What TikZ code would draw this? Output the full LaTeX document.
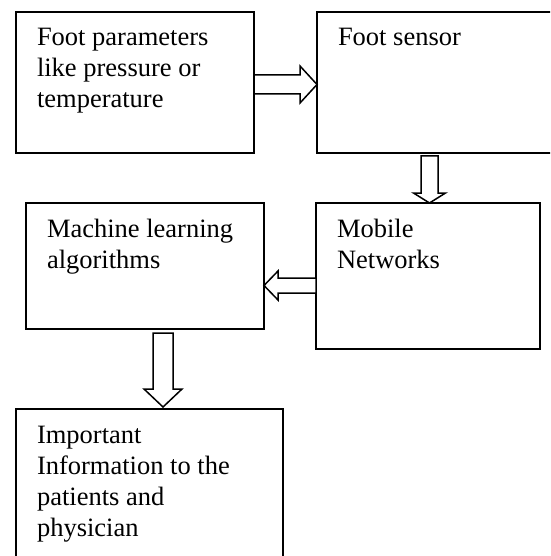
\documentclass[tikz,border=0pt]{standalone}
\usepackage{fontspec}
\setmainfont{Liberation Serif}
\usetikzlibrary{calc}

\tikzset{
  box/.style={draw, line width=1.5pt, rectangle, inner sep=0pt, outer sep=0pt, anchor=north west},
  lbl/.style={inner sep=0pt, outer sep=0pt, anchor=base west, font=\fontsize{26.5}{31}\selectfont},
  blk/.style={draw, fill=white, line width=1.5pt, line join=miter}
}
\newcommand\lbltext[1]{\parbox[t]{300pt}{\raggedright #1}}

\begin{document}
\begin{tikzpicture}[x=1pt, y=-1pt]
  \clip (0,0) rectangle (550,556);

  % boxes
  \node[box, minimum width=238pt, minimum height=141pt] (b1) at (16,12) {};
  \node[box, minimum width=243pt, minimum height=141pt] (b2) at (317,12) {};
  \node[box, minimum width=224pt, minimum height=146pt] (b3) at (316,203) {};
  \node[box, minimum width=238pt, minimum height=126pt] (b4) at (26,203) {};
  \node[box, minimum width=267pt, minimum height=166pt] (b5) at (16,409) {};

  % labels
  \node[lbl] (t1) at ($(b1.north west)+(21,34)$) {\lbltext{Foot parameters\\like pressure or\\temperature}};
  \node[lbl] (t2) at ($(b2.north west)+(21,34)$) {\lbltext{Foot sensor}};
  \node[lbl] (t3) at ($(b3.north west)+(21,34)$) {\lbltext{Mobile\\Networks}};
  \node[lbl] (t4) at ($(b4.north west)+(21,34)$) {\lbltext{Machine learning\\algorithms}};
  \node[lbl] (t5) at ($(b5.north west)+(21,34)$) {\lbltext{Important\\Information to the\\patients and\\physician}};

  % arrow ends
  \coordinate (a1s) at ($(b1.north east)+(0,72.5)$);
  \coordinate (a1e) at ($(b2.north west)+(0,72.5)$);
  \coordinate (a2s) at ($(b2.south west)+(112.5,3)$);
  \coordinate (a2e) at ($(b3.north west)+(113.5,0)$);
  \coordinate (a3s) at ($(b3.north west)+(0,82.5)$);
  \coordinate (a3e) at ($(b4.north east)+(0,82.5)$);
  \coordinate (a4s) at ($(b4.south west)+(137,4)$);
  \coordinate (a4e) at ($(b5.north west)+(147,-2)$);

  % hollow block arrows
  \draw[blk] ($(a1s)+(0,-9.5)$) -- ($(a1e)+(-17,-9.5)$) -- ($(a1e)+(-17,-18.5)$) -- (a1e)
    -- ($(a1e)+(-17,18.5)$) -- ($(a1e)+(-17,9.5)$) -- ($(a1s)+(0,9.5)$) -- cycle;
  \draw[blk] ($(a2s)+(-8.5,0)$) -- ($(a2s |- a2e)+(-8.5,-10)$) -- ($(a2s |- a2e)+(-16,-10)$) -- (a2e)
    -- ($(a2s |- a2e)+(16,-10)$) -- ($(a2s |- a2e)+(8.5,-10)$) -- ($(a2s)+(8.5,0)$) -- cycle;
  \draw[blk] ($(a3s)+(0,-7.5)$) -- ($(a3e)+(14,-7.5)$) -- ($(a3e)+(14,-14.5)$) -- (a3e)
    -- ($(a3e)+(14,14.5)$) -- ($(a3e)+(14,7.5)$) -- ($(a3s)+(0,7.5)$) -- cycle;
  \draw[blk] ($(a4s)+(-10,0)$) -- ($(a4s |- a4e)+(-10,-18)$) -- ($(a4s |- a4e)+(-19,-18)$) -- (a4e)
    -- ($(a4s |- a4e)+(19,-18)$) -- ($(a4s |- a4e)+(10,-18)$) -- ($(a4s)+(10,0)$) -- cycle;
\end{tikzpicture}
\end{document}
